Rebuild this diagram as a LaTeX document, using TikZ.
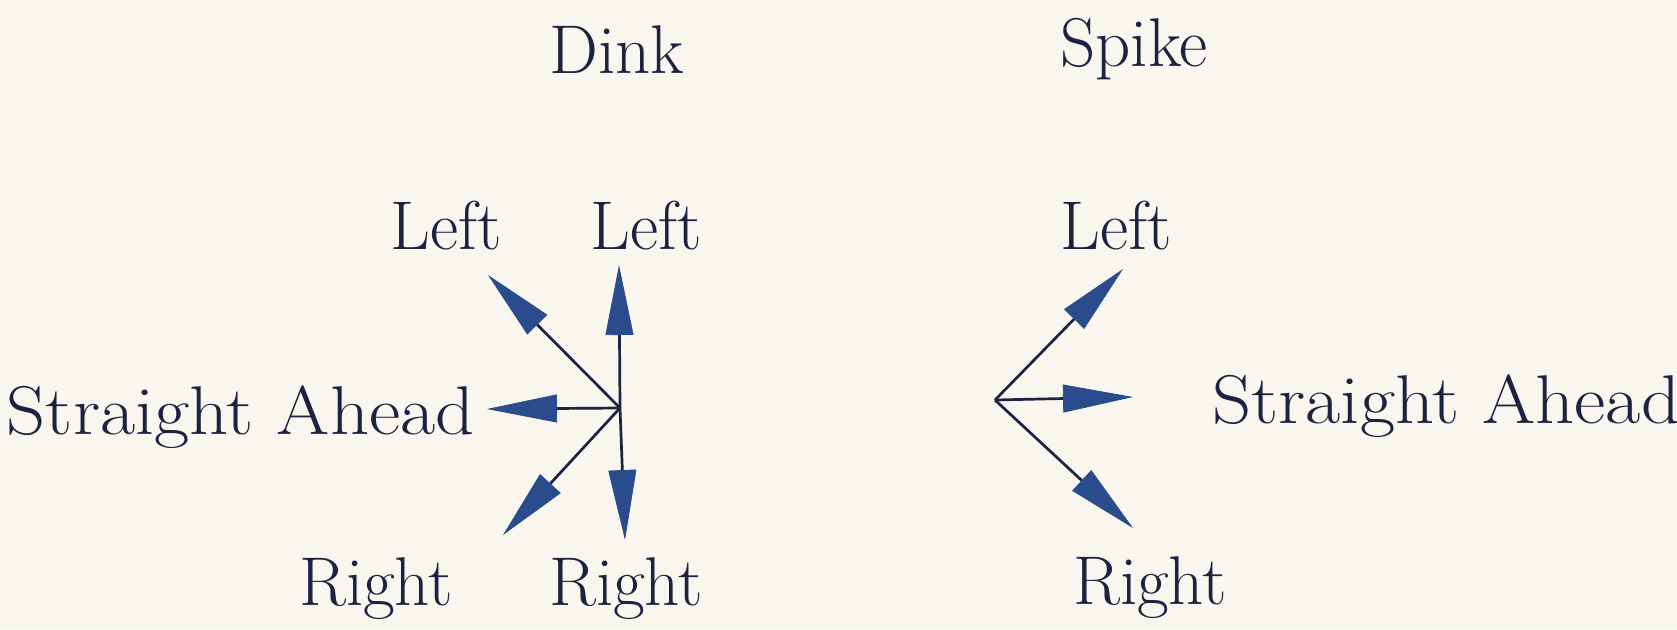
\documentclass[tikz,border=0pt]{standalone}
\usepackage{fontspec}
\usetikzlibrary{arrows.meta}
\definecolor{bgcol}{HTML}{F8F6EE}
\definecolor{inkcol}{HTML}{1D2240}
\definecolor{headcol}{HTML}{2A4B8C}
\newcommand{\widetext}[1]{\scalebox{1.11}[1]{#1}}
\begin{document}
\begin{tikzpicture}[x=0.5pt,y=-0.5pt,
  lbl/.style={inner sep=0pt,anchor=base,text=inkcol,font=\fontsize{34.5}{40}\selectfont},
  ray/.style={draw=inkcol,line width=1.35pt,
    -{Triangle[length=35pt,width=14pt,color=headcol,fill=headcol,line width=0.4pt]}}]
\fill[bgcol] (0,0) rectangle (1677,629);
\useasboundingbox (0,0) rectangle (1677,629);
% titles
\node[lbl] (dink) at (617,73) {Dink};
\node[lbl] (spike) at (1134,66) {Spike};
% Dink labels
\node[lbl] (dl1) at (446,249) {Left};
\node[lbl] (dl2) at (646,249) {Left};
\node[lbl,anchor=base east] (dsa) at (475,434) {\widetext{Straight Ahead}};
\node[lbl] (dr1) at (376,605) {Right};
\node[lbl] (dr2) at (626,605) {Right};
% Spike labels
\node[lbl] (sl) at (1116,249) {Left};
\node[lbl,anchor=base west] (ssa) at (1212,423) {\widetext{Straight Ahead}};
\node[lbl] (sr) at (1150,604) {Right};
% Dink arrows
\coordinate (c1) at (620,408);
\coordinate (t1) at (619,265);
\coordinate (t2) at (488,275);
\coordinate (t3) at (487,409);
\coordinate (t4) at (503,535);
\coordinate (t5) at (625,540);
\draw[ray] (c1) -- (t1);
\draw[ray] (c1) -- (t2);
\draw[ray] (c1) -- (t3);
\draw[ray] (c1) -- (t4);
\draw[ray] (c1) -- (t5);
% Spike arrows
\coordinate (c2) at (995,400);
\coordinate (u1) at (1123,269);
\coordinate (u2) at (1133,397);
\coordinate (u3) at (1133,528);
\draw[ray] (c2) -- (u1);
\draw[ray] (c2) -- (u2);
\draw[ray] (c2) -- (u3);
\end{tikzpicture}
\end{document}
